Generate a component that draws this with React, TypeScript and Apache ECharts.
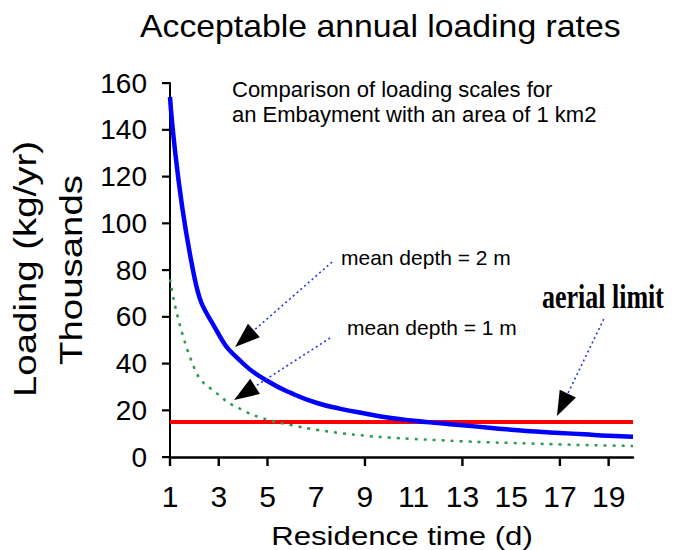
import React, { useEffect, useRef } from "react";
import * as echarts from "echarts";

// ---- data ----
const residenceDays = ["1", "2", "3", "4", "5", "6", "7", "8", "9", "10", "11", "12", "13", "14", "15", "16", "17", "18", "19", "20"];
const xTickMarks = ["1", "3", "5", "9", "13", "17", "19"];
const loadingDepth2m = [154, 77, 52.5, 40, 32.5, 27.2, 23.2, 20.6, 18.6, 16.8, 15.5, 14.5, 13.6, 12.6, 11.7, 10.9, 10.3, 9.7, 9.1, 8.7];
const loadingDepth1m = [76, 38, 26.5, 20, 16, 13.6, 11.7, 10.2, 9.1, 8.3, 7.7, 7.2, 6.7, 6.3, 6.0, 5.7, 5.4, 5.1, 4.9, 4.7];
const aerialLimit = [15, 15, 15, 15, 15, 15, 15, 15, 15, 15, 15, 15, 15, 15, 15, 15, 15, 15, 15, 15];
const yTickValues = [0, 20, 40, 60, 80, 100, 120, 140, 160];
const yMin = 0;
const yMax = 160;
const yStep = 20;

const chartTitle = "Acceptable annual loading rates";
const yTitleLines = ["Loading (kg/yr)", "Thousands"];
const xTitle = "Residence time (d)";
const noteLines = ["Comparison of loading scales for", "an Embayment with an area of 1 km2"];

// annotation arrows, anchored in data coordinates [category, value]
const arrowNotes = [
  { label: "mean depth = 2 m", from: [7.65, 83.4], tip: [3.67, 47.1] },
  { label: "mean depth = 1 m", from: [7.57, 50.9], tip: [3.63, 24.4] },
  { label: "aerial limit", from: [18.8, 59.0], tip: [16.88, 17.5] },
];

const SANS = "'Liberation Sans', Arial, sans-serif";
const SERIF = "'Liberation Serif', 'Times New Roman', serif";

export default function App() {
  const ref = useRef<HTMLDivElement>(null);

  useEffect(() => {
    document.body.style.margin = "0";
    const chart = echarts.init(ref.current as HTMLDivElement, null, { renderer: "svg" });

    chart.setOption({
      animation: false,
      backgroundColor: "#ffffff",
      grid: { left: 170, right: 43, top: 83, bottom: 93 },
      xAxis: {
        type: "category",
        data: residenceDays,
        boundaryGap: false,
        axisLine: { show: true, lineStyle: { color: "#000", width: 2.5 } },
        axisTick: { show: false },
        axisLabel: { interval: 1, color: "#000", fontSize: 30, fontFamily: SANS, margin: 24 },
        splitLine: { show: false },
      },
      yAxis: {
        type: "value",
        min: yMin,
        max: yMax,
        interval: yStep,
        axisLine: { show: true, lineStyle: { color: "#000", width: 2 } },
        axisTick: { show: false },
        axisLabel: { color: "#000", fontSize: 28, fontFamily: SANS, margin: 23 },
        splitLine: { show: false },
      },
      series: [
        {
          name: "aerial limit",
          type: "line",
          data: aerialLimit,
          symbol: "none",
          lineStyle: { color: "#ff0000", width: 4 },
          z: 2,
        },
        {
          name: "mean depth = 2 m",
          type: "line",
          data: loadingDepth2m,
          symbol: "none",
          smooth: 0.5,
          lineStyle: { color: "#0000ff", width: 4.5 },
          z: 3,
        },
        {
          name: "mean depth = 1 m",
          type: "line",
          data: loadingDepth1m,
          symbol: "none",
          smooth: 0.5,
          lineStyle: { color: "#2a9a4c", width: 2.5, type: [3, 6] },
          z: 4,
        },
      ],
    });

    const first = chart.convertToPixel({ xAxisIndex: 0 }, residenceDays[0]) as number;
    const last = chart.convertToPixel({ xAxisIndex: 0 }, residenceDays[residenceDays.length - 1]) as number;
    const px = (c: number) => first + ((c - 1) * (last - first)) / (residenceDays.length - 1);
    const py = (v: number) => chart.convertToPixel({ yAxisIndex: 0 }, v) as number;
    const yBase = py(yMin);

    const elements: any[] = [];

    // tick marks drawn on the axes (as thin rects)
    xTickMarks.forEach((c) => {
      const x = chart.convertToPixel({ xAxisIndex: 0 }, c) as number;
      elements.push({
        type: "rect",
        shape: { x: x - 1.2, y: yBase, width: 2.4, height: 9 },
        style: { fill: "#000" },
        z: 9,
      });
    });
    yTickValues.forEach((v) => {
      const y = py(v);
      elements.push({
        type: "rect",
        shape: { x: first - 8, y: y - 1, width: 8, height: 2.2 },
        style: { fill: "#000" },
        z: 9,
      });
    });

    arrowNotes.forEach((a) => {
      const sx = px(a.from[0]);
      const sy = py(a.from[1]);
      const tx = px(a.tip[0]);
      const ty = py(a.tip[1]);
      const dx = tx - sx;
      const dy = ty - sy;
      const len = Math.hypot(dx, dy);
      const ux = dx / len;
      const uy = dy / len;
      const bx = tx - ux * 25;
      const by = ty - uy * 25;
      const nx = -uy;
      const ny = ux;
      elements.push({
        type: "line",
        shape: { x1: sx, y1: sy, x2: bx, y2: by },
        style: { stroke: "#2a36d6", lineWidth: 1.6, lineDash: [2, 3] },
        z: 10,
      });
      elements.push({
        type: "polygon",
        shape: { points: [[tx, ty], [bx + nx * 9, by + ny * 9], [bx - nx * 9, by - ny * 9]] },
        style: { fill: "#000" },
        z: 11,
      });
    });

    // titles and notes
    elements.push({
      type: "text",
      x: 140,
      y: 26,
      scaleX: 1.09,
      style: { text: chartTitle, fontSize: 31, fontFamily: SANS, fill: "#000", align: "left", verticalAlign: "middle" },
      z: 12,
    });
    elements.push({
      type: "text",
      x: 25,
      y: 269,
      rotation: Math.PI / 2,
      scaleX: 1.2,
      style: { text: yTitleLines[0], fontSize: 32, fontFamily: SANS, fill: "#000", align: "center", verticalAlign: "middle" },
      z: 12,
    });
    elements.push({
      type: "text",
      x: 71,
      y: 270,
      rotation: Math.PI / 2,
      scaleX: 1.2,
      style: { text: yTitleLines[1], fontSize: 32, fontFamily: SANS, fill: "#000", align: "center", verticalAlign: "middle" },
      z: 12,
    });
    elements.push({
      type: "text",
      x: 402,
      y: 536,
      scaleX: 1.2,
      style: { text: xTitle, fontSize: 26, fontFamily: SANS, fill: "#000", align: "center", verticalAlign: "middle" },
      z: 12,
    });
    noteLines.forEach((t, i) => {
      elements.push({
        type: "text",
        x: 232,
        y: 89 + i * 25,
        style: { text: t, fontSize: 22, fontFamily: SANS, fill: "#000", align: "left", verticalAlign: "middle" },
        z: 12,
      });
    });
    elements.push({
      type: "text",
      x: 341,
      y: 257,
      style: { text: arrowNotes[0].label, fontSize: 21, fontFamily: SANS, fill: "#000", align: "left", verticalAlign: "middle" },
      z: 12,
    });
    elements.push({
      type: "text",
      x: 347,
      y: 327,
      style: { text: arrowNotes[1].label, fontSize: 21, fontFamily: SANS, fill: "#000", align: "left", verticalAlign: "middle" },
      z: 12,
    });
    elements.push({
      type: "text",
      x: 542,
      y: 297,
      scaleY: 1.3,
      style: { text: arrowNotes[2].label, fontSize: 26, fontWeight: "bold", fontFamily: SERIF, fill: "#000", align: "left", verticalAlign: "middle" },
      z: 12,
    });

    chart.setOption({ graphic: { elements } });

    return () => chart.dispose();
  }, []);

  return <div ref={ref} style={{ width: 676, height: 550 }} />;
}
